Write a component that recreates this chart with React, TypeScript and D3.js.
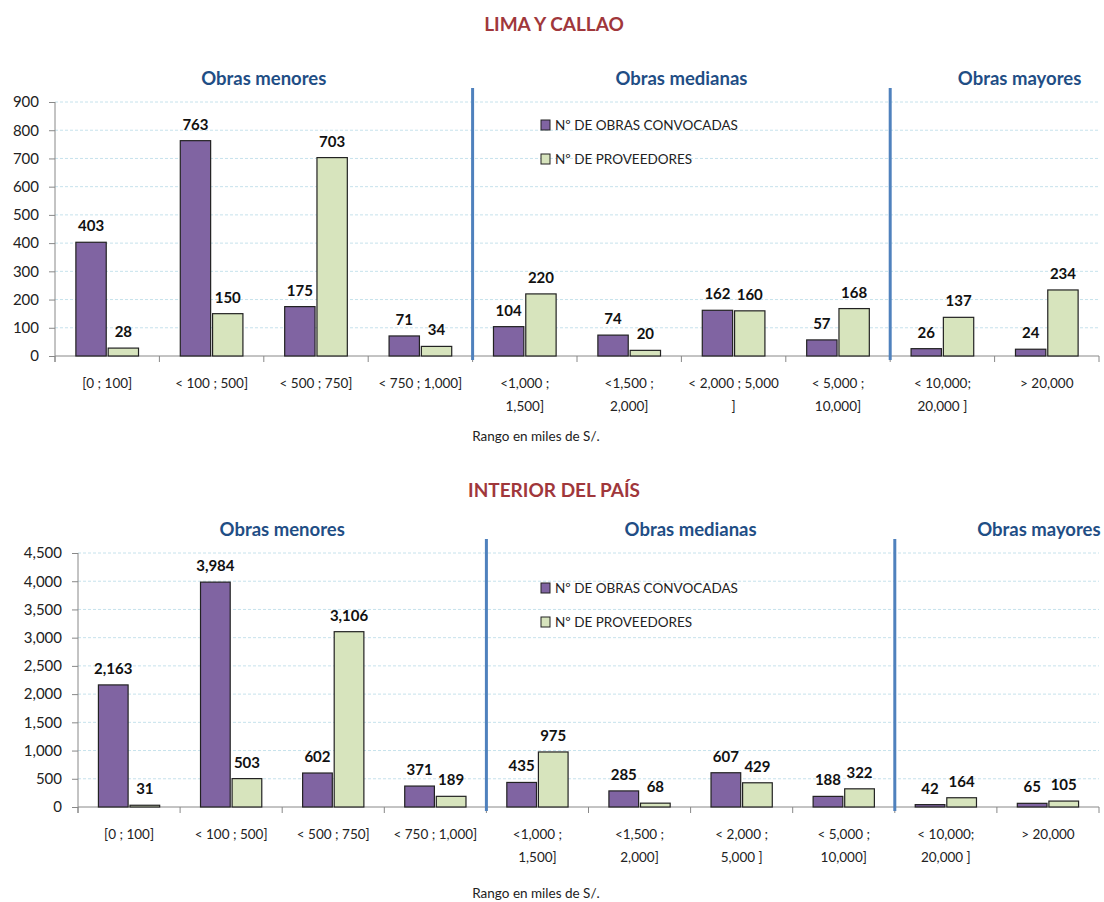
import React, { useEffect, useRef } from 'react';
import * as d3 from 'd3';

// category labels (\n = line break)
const limaCategories = ['[0 ; 100]', '< 100 ; 500]', '< 500 ; 750]', '< 750 ; 1,000]', '<1,000 ;\n1,500]', '<1,500 ;\n2,000]', '< 2,000 ; 5,000\n]', '< 5,000 ;\n10,000]', '< 10,000;\n20,000 ]', '> 20,000'];
const interiorCategories = ['[0 ; 100]', '< 100 ; 500]', '< 500 ; 750]', '< 750 ; 1,000]', '<1,000 ;\n1,500]', '<1,500 ;\n2,000]', '< 2,000 ;\n5,000 ]', '< 5,000 ;\n10,000]', '< 10,000;\n20,000 ]', '> 20,000'];

const limaObras = [403, 763, 175, 71, 104, 74, 162, 57, 26, 24];
const limaProveedores = [28, 150, 703, 34, 220, 20, 160, 168, 137, 234];
const interiorObras = [2163, 3984, 602, 371, 435, 285, 607, 188, 42, 65];
const interiorProveedores = [31, 503, 3106, 189, 975, 68, 429, 322, 164, 105];

const limaTicks = [0, 100, 200, 300, 400, 500, 600, 700, 800, 900];
const interiorTicks = [0, 500, 1000, 1500, 2000, 2500, 3000, 3500, 4000, 4500];

const sectionNames = ['Obras menores', 'Obras medianas', 'Obras mayores'];
const sectionStarts = [0, 4, 8];
const sectionEnds = [4, 8, 10];

const seriesNames = ['Nº DE OBRAS CONVOCADAS', 'Nº DE PROVEEDORES'];
const seriesColors = ['#8064a2', '#d7e4bd'];

const FONT = 'Lato, "Open Sans", sans-serif';

function drawPanel(svg: any, cfg: any) {
    var g = svg.append('g');
    var margin = cfg.margin;

    var x = d3.scaleBand().domain(cfg.categories.map((d: string, i: number) => String(i)))
        .range([margin.left, margin.right]).padding(0);
    var bw = x.bandwidth();
    var inner = d3.scaleBand().domain(['0', '1'])
        .range([bw * 0.2, bw * 0.8]).paddingInner(0.06);
    var y = d3.scaleLinear().domain([0, cfg.ticks[cfg.ticks.length - 1]])
        .range([margin.bottom, margin.top]);

    // title
    g.append('text')
        .attr('x', 554).attr('y', cfg.titleY)
        .attr('text-anchor', 'middle')
        .style('font-family', FONT).style('font-weight', 'bold').style('font-size', '19px')
        .style('fill', '#a0373b')
        .text(cfg.title);

    // gridlines
    g.selectAll('.grid').data(cfg.ticks.slice(1)).join('line')
        .attr('x1', margin.left).attr('x2', margin.right)
        .attr('y1', (d: number) => y(d)).attr('y2', (d: number) => y(d))
        .attr('stroke', '#c6e2ec').attr('stroke-width', 1)
        .attr('stroke-dasharray', '3,2');

    // y axis
    var yAxis = g.append('g')
        .attr('transform', `translate(${margin.left},0)`)
        .call(d3.axisLeft(y).tickValues(cfg.ticks).tickSize(6).tickPadding(10).tickFormat(d3.format(',')));
    yAxis.select('.domain').attr('stroke', '#888').attr('d', `M0,${margin.top}V${margin.bottom + 6}`);
    yAxis.selectAll('.tick line').attr('stroke', '#888');
    yAxis.selectAll('text').style('font-family', FONT).style('font-size', '15px').style('fill', '#222');

    // x axis line + boundary ticks
    g.append('line')
        .attr('x1', margin.left).attr('x2', margin.right)
        .attr('y1', margin.bottom).attr('y2', margin.bottom)
        .attr('stroke', '#888');
    var bounds = d3.range(cfg.categories.length + 1);
    g.selectAll('.xtick').data(bounds).join('line')
        .attr('x1', (d: number) => margin.left + d * bw).attr('x2', (d: number) => margin.left + d * bw)
        .attr('y1', margin.bottom).attr('y2', margin.bottom + 6)
        .attr('stroke', '#888');

    // category labels
    cfg.categories.forEach((c: string, i: number) => {
        var lines = c.split('\n');
        var t = g.append('text')
            .attr('x', (x(String(i)) as number) + bw / 2)
            .attr('y', margin.bottom + 32)
            .attr('text-anchor', 'middle')
            .style('font-family', FONT).style('font-size', '13.5px').style('fill', '#222');
        lines.forEach((l: string, j: number) => {
            t.append('tspan').attr('x', (x(String(i)) as number) + bw / 2)
                .attr('dy', j === 0 ? 0 : 23).text(l);
        });
    });

    // axis title
    g.append('text')
        .attr('x', 536).attr('y', cfg.axisTitleY)
        .attr('text-anchor', 'middle')
        .style('font-family', FONT).style('font-size', '13.5px').style('fill', '#222')
        .text('Rango en miles de S/.');

    // bars
    var series = [cfg.obras, cfg.proveedores];
    series.forEach((vals: number[], s: number) => {
        g.selectAll('.bar' + s).data(vals).join('rect')
            .attr('x', (d: number, i: number) => (x(String(i)) as number) + (inner(String(s)) as number))
            .attr('y', (d: number) => y(d))
            .attr('width', inner.bandwidth())
            .attr('height', (d: number) => margin.bottom - y(d))
            .attr('fill', seriesColors[s])
            .attr('stroke', '#222').attr('stroke-width', 1.2);
        g.selectAll('.lab' + s).data(vals).join('text')
            .attr('x', (d: number, i: number) => (x(String(i)) as number) + (inner(String(s)) as number) + inner.bandwidth() / 2)
            .attr('y', (d: number) => y(d) - 11)
            .attr('text-anchor', 'middle')
            .style('font-family', FONT).style('font-weight', 'bold').style('font-size', '15px')
            .style('fill', '#111')
            .text((d: number) => d3.format(',')(d));
    });

    // section dividers
    g.selectAll('.divider').data(sectionStarts.slice(1)).join('line')
        .attr('x1', (d: number) => margin.left + d * bw).attr('x2', (d: number) => margin.left + d * bw)
        .attr('y1', margin.top - 14).attr('y2', margin.bottom + 4)
        .attr('stroke', '#4f81bd').attr('stroke-width', 3);

    // section titles
    g.selectAll('.section').data(sectionNames).join('text')
        .attr('x', (d: string, i: number) => margin.left + (sectionStarts[i] + sectionEnds[i]) / 2 * bw + (i === 2 ? cfg.mayorShift : 0))
        .attr('y', margin.top - 17)
        .attr('text-anchor', 'middle')
        .style('font-family', FONT).style('font-weight', 'bold').style('font-size', '18.5px')
        .style('fill', '#1f4e85')
        .text((d: string) => d);

    // legend
    seriesNames.forEach((name: string, s: number) => {
        var ly = cfg.legendY + s * 34;
        g.append('rect')
            .attr('x', 541).attr('y', ly - 5).attr('width', 9).attr('height', 10)
            .attr('fill', seriesColors[s]).attr('stroke', '#222').attr('stroke-width', 1);
        g.append('text')
            .attr('x', 555).attr('y', ly + 5)
            .style('font-family', FONT).style('font-size', '13.5px').style('fill', '#222')
            .text(name);
    });
}

export default function App() {
    const ref = useRef<SVGSVGElement>(null);

    useEffect(() => {
        var svg = d3.select(ref.current);
        svg.selectAll('*').remove();

        drawPanel(svg, {
            title: 'LIMA Y CALLAO', titleY: 31, axisTitleY: 441,
            categories: limaCategories, obras: limaObras, proveedores: limaProveedores,
            ticks: limaTicks, legendY: 125, mayorShift: 25,
            margin: { left: 55, right: 1099, top: 102, bottom: 356 }
        });
        drawPanel(svg, {
            title: 'INTERIOR DEL PAÍS', titleY: 497, axisTitleY: 898,
            categories: interiorCategories, obras: interiorObras, proveedores: interiorProveedores,
            ticks: interiorTicks, legendY: 588, mayorShift: 42,
            margin: { left: 78, right: 1099, top: 553, bottom: 807 }
        });
    }, []);

    return <svg ref={ref} width={1104} height={902}
        style={{ position: 'absolute', left: 0, top: 0, background: '#fff' }} />;
}
